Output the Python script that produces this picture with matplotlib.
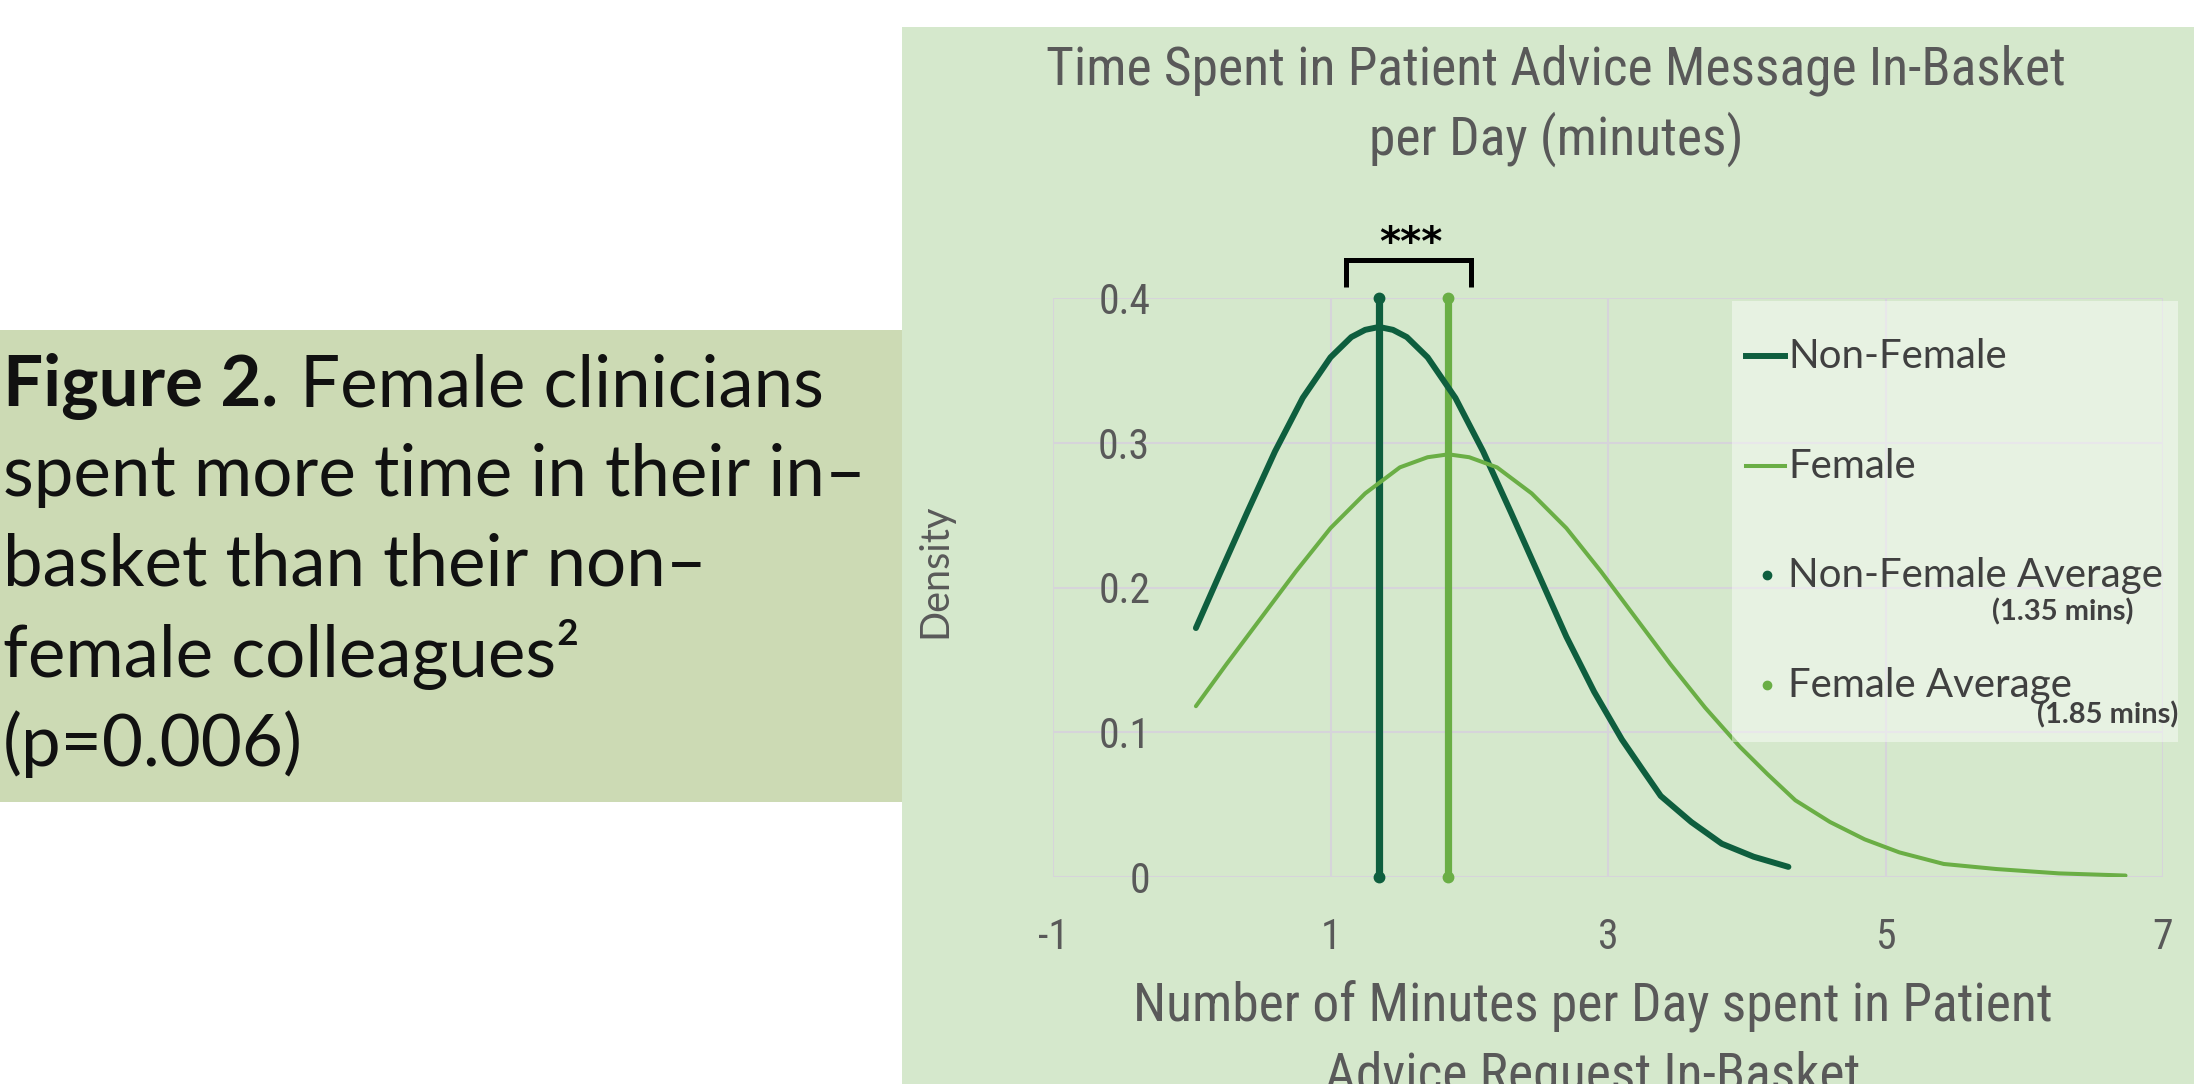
import matplotlib
matplotlib.use("Agg")
import matplotlib.pyplot as plt
from matplotlib.patches import Rectangle
from matplotlib.lines import Line2D

# values
nonfemale_x = [0.03, 0.2, 0.4, 0.6, 0.8, 1.0, 1.15, 1.25, 1.35, 1.45, 1.55, 1.7, 1.9, 2.1, 2.3,
               2.5, 2.7, 2.9, 3.1, 3.25, 3.38, 3.6, 3.82, 4.05, 4.30]
nonfemale_y = [0.172, 0.209, 0.252, 0.294, 0.331, 0.359, 0.373, 0.378, 0.380, 0.378, 0.373,
               0.359, 0.331, 0.294, 0.252, 0.209, 0.166, 0.128, 0.095, 0.074, 0.056, 0.038,
               0.023, 0.014, 0.007]
female_x = [0.03, 0.25, 0.5, 0.75, 1.0, 1.25, 1.5, 1.7, 1.85, 2.0, 2.2, 2.45, 2.7, 2.95, 3.2,
            3.45, 3.7, 3.95, 4.15, 4.35, 4.6, 4.85, 5.1, 5.42, 5.8, 6.25, 6.73]
female_y = [0.118, 0.147, 0.179, 0.211, 0.241, 0.265, 0.283, 0.290, 0.292, 0.290, 0.283, 0.265,
            0.241, 0.211, 0.179, 0.147, 0.117, 0.090, 0.071, 0.053, 0.038, 0.026, 0.017, 0.009,
            0.0055, 0.0025, 0.001]
series_names = ['Non-Female', 'Female']
averages = [1.35, 1.85]
avg_names = ['Non-Female Average', 'Female Average']
avg_notes = ['(1.35 mins)', '(1.85 mins)']
x_ticks = [-1, 1, 3, 5, 7]
y_ticks = [0, 0.1, 0.2, 0.3, 0.4]
y_ticklabels = ['0', '0.1', '0.2', '0.3', '0.4']

DARK = '#0e5e3e'
LIGHT = '#6aae45'
PANEL = '#d5e8cc'
CAPTION_BG = '#ccdab4'
GRAY = '#595959'
NARROW = ['Roboto Condensed', 'Liberation Sans', 'DejaVu Sans']
HUMAN = ['Lato', 'DejaVu Sans']
plt.rcParams['axes.unicode_minus'] = False

W, H = 2194, 1084
fig = plt.figure(figsize=(W / 100, H / 100), dpi=100)
fig.patch.set_facecolor('white')


def fx(px):
    return px / W


def fy(py):
    return 1 - py / H


# background panels
fig.add_artist(Rectangle((fx(902), 0), 1 - fx(902), fy(27), transform=fig.transFigure,
                         facecolor=PANEL, edgecolor='none', zorder=-2))
fig.add_artist(Rectangle((0, fy(802)), fx(902), fy(330) - fy(802), transform=fig.transFigure,
                         facecolor=CAPTION_BG, edgecolor='none', zorder=-2))

# chart
ax = fig.add_axes([fx(1053), fy(877), fx(2163) - fx(1053), fy(298) - fy(877)])
ax.set_facecolor('none')
ax.set_xlim(-1, 7)
ax.set_ylim(0, 0.4)
for s in ax.spines.values():
    s.set_visible(False)
ax.set_xticks(x_ticks)
ax.set_yticks(y_ticks)
ax.set_yticklabels(y_ticklabels)
ax.grid(True, color='#d6d4da', lw=1.5)
ax.set_axisbelow(True)
ax.tick_params(length=0, labelsize=30, labelcolor=GRAY)
ax.tick_params(axis='y', pad=-70)
ax.tick_params(axis='x', pad=29)
for lab in ax.get_xticklabels() + ax.get_yticklabels():
    lab.set_family(NARROW)

for m, c in zip(averages, [DARK, LIGHT]):
    ax.plot([m, m], [0, 0.4], color=c, lw=5.2, marker='o', ms=7.5,
            solid_capstyle='butt', clip_on=False, zorder=2)

ax.plot(nonfemale_x, nonfemale_y, color=DARK, lw=4.3, zorder=3,
        solid_capstyle='round', solid_joinstyle='round')
ax.plot(female_x, female_y, color=LIGHT, lw=2.9, zorder=3,
        solid_capstyle='round', solid_joinstyle='round')

# significance bracket
ax.plot([1.112, 1.112, 2.013, 2.013], [0.4076, 0.4263, 0.4263, 0.4076], color='black',
        lw=3.6, clip_on=False, solid_joinstyle='miter', solid_capstyle='butt')
ax.text(1.58, 0.437, '***', ha='center', va='center', fontsize=29, fontweight='bold',
        family='DejaVu Sans', color='black', clip_on=False)

# titles
fig.text(fx(1556), fy(70), 'Time Spent in Patient Advice Message In-Basket', ha='center',
         va='center', fontsize=38.5, color=GRAY, family=NARROW)
fig.text(fx(1556), fy(139), 'per Day (minutes)', ha='center', va='center', fontsize=38.5,
         color=GRAY, family=NARROW)
fig.text(fx(1593), fy(1007), 'Number of Minutes per Day spent in Patient', ha='center',
         va='center', fontsize=38.5, color=GRAY, family=NARROW)
fig.text(fx(1593), fy(1077), 'Advice Request In-Basket', ha='center', va='center',
         fontsize=38.5, color=GRAY, family=NARROW)
fig.text(fx(935), fy(571), 'Density', rotation=90, ha='center', va='center', fontsize=28.5,
         color=GRAY, family=HUMAN)

# legend drawn by hand
fig.add_artist(Rectangle((fx(1732), fy(742)), fx(2178) - fx(1732), fy(301) - fy(742),
                         transform=fig.transFigure, facecolor='white', alpha=0.45,
                         edgecolor='none', zorder=5))
for name, c, lw, py in zip(series_names, [DARK, LIGHT], [4.3, 2.9], [356, 466]):
    fig.add_artist(Line2D([fx(1746), fx(1785)], [fy(py), fy(py)], transform=fig.transFigure,
                          color=c, lw=lw, zorder=6))
    fig.text(fx(1788), fy(py), name, ha='left', va='center', fontsize=29, color='#404040',
             family=HUMAN, zorder=6)
for name, note, c, py, ny, nx in zip(avg_names, avg_notes, [DARK, LIGHT], [575, 685],
                                     [612, 715], [2133, 2178]):
    fig.add_artist(Line2D([fx(1767)], [fy(py)], transform=fig.transFigure, marker='o', ms=6,
                          color=c, lw=0, zorder=6))
    fig.text(fx(1788), fy(py), name, ha='left', va='center', fontsize=29, color='#404040',
             family=HUMAN, zorder=6)
    fig.text(fx(nx), fy(ny), note, ha='right', va='center', fontsize=21, fontweight='bold',
             color='#404040', family=HUMAN, zorder=6)

# caption on the left
caption = ['spent more time in their in\u2013', 'basket than their non\u2013',
           'female colleagues\u00b2', '(p=0.006)']
cap_size = 51
fig.canvas.draw()
r = fig.canvas.get_renderer()
t0 = fig.text(fx(3), fy(386), 'Figure 2.', ha='left', va='center', fontsize=cap_size,
              fontweight='bold', color='#111111', family=HUMAN)
bb = t0.get_window_extent(renderer=r)
fig.text(bb.x1 / W + fx(22), fy(386), 'Female clinicians', ha='left', va='center',
         fontsize=cap_size, color='#111111', family=HUMAN)
for line, py in zip(caption, [476, 565, 655, 744]):
    fig.text(fx(3), fy(py), line, ha='left', va='center', fontsize=cap_size,
             color='#111111', family=HUMAN)

fig.savefig('out.png', dpi=100)
